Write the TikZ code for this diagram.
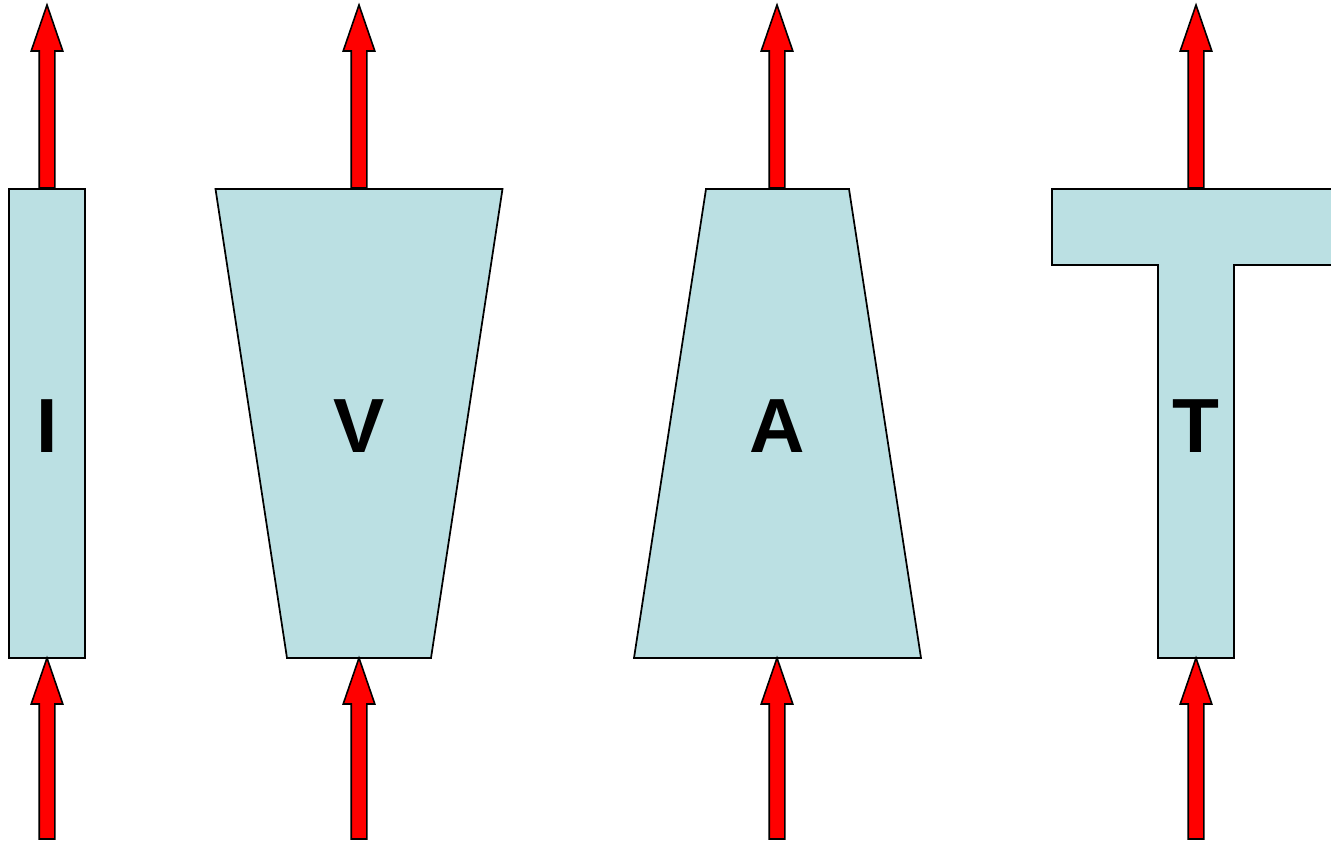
\documentclass[tikz,border=0pt]{standalone}
\usepackage{fontspec}
\setmainfont{Liberation Sans}
\definecolor{boxfill}{RGB}{187,224,227}
\definecolor{arrred}{RGB}{255,0,0}
\tikzset{
  shapebox/.style={draw=black, fill=boxfill, line width=1.3pt, line join=miter},
  letter/.style={font=\fontsize{57.6}{60}\selectfont\bfseries, inner sep=0pt, anchor=base},
  blockarrow/.pic={
    \filldraw[draw=black, fill=arrred, line width=1.2pt, line join=miter]
      (-7.8,0) -- (-7.8,-\pgfkeysvalueof{/tikz/arrlen}+46) -- (-15.8,-\pgfkeysvalueof{/tikz/arrlen}+46)
      -- (0,-\pgfkeysvalueof{/tikz/arrlen}) -- (15.8,-\pgfkeysvalueof{/tikz/arrlen}+46)
      -- (7.8,-\pgfkeysvalueof{/tikz/arrlen}+46) -- (7.8,0) -- cycle;
  },
  arrlen/.initial=184,
}
\begin{document}
\begin{tikzpicture}[x=0.75pt, y=-0.75pt]
\useasboundingbox (0,0) rectangle (1331,842);
% shapes
\draw[shapebox] (9,189) -- (85,189) -- (85,658) -- (9,658) -- cycle;
\draw[shapebox] (215.5,189) -- (502.5,189) -- (431,658) -- (287,658) -- cycle;
\draw[shapebox] (706,189) -- (849,189) -- (921,658) -- (634,658) -- cycle;
\draw[shapebox] (1340,189) -- (1052,189) -- (1052,265) -- (1158,265) -- (1158,658)
  -- (1234,658) -- (1234,265) -- (1340,265);
% labels
\node[letter] (lI) at (47,452) {I};
\node[letter] (lV) at (359,452) {V};
\node[letter] (lA) at (777,452) {A};
\node[letter] (lT) at (1196,452) {T};
% arrows
\foreach \cx in {47,359,777,1196} {
  \pic[arrlen=183] at (\cx,188) {blockarrow};
  \pic[arrlen=181] at (\cx,839) {blockarrow};
}
\end{tikzpicture}
\end{document}
